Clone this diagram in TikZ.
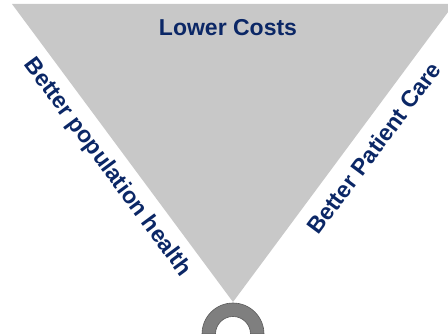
\documentclass[tikz,border=0pt]{standalone}
\usepackage{fontspec}
\setmainfont{Liberation Sans}
\usetikzlibrary{calc,positioning}

\definecolor{navy}{HTML}{0B2766}
\definecolor{conegray}{HTML}{C8C8C8}
\definecolor{archgray}{HTML}{7F7F7F}
\definecolor{archedge}{HTML}{5A5A5A}

\tikzset{
	aimlabel/.style={text=navy, font=\fontsize{23}{26}\selectfont\bfseries, inner sep=0pt},
	cone/.style={fill=conegray, draw=none},
	arch/.style={fill=archgray, draw=archedge, line width=0.6pt}
}

\begin{document}
\begin{tikzpicture}[x=1pt,y=1pt]
	\path[use as bounding box, clip] (0,0) rectangle (448,334);

	\coordinate (TL)	at (12,330);
	\coordinate (TR)	at (454,330);
	\coordinate (A)		at (233,32);
	\coordinate (O)		at (233,0);

	% the cone
	\path[cone] (TL) -- (TR) -- (A) -- cycle;

	% the arch under the tip
	\draw[arch] ($(O)+(31,0)$) arc[start angle=0, end angle=180, radius=31]
		-- ($(O)+(-17.5,0)$) arc[start angle=180, end angle=0, radius=17.5] -- cycle;

	\node[aimlabel]						(costs)		at (228,306)	{Lower Costs};
	\node[aimlabel, rotate=-53.4]		(health)	at ($(TL)!0.507!(A)!21pt!-90:(A)$)	{Better population health};
	\node[aimlabel, rotate=53.4]		(care)		at ($(TR)!0.44!(A)!21.5pt!90:(A)$)	{Better Patient Care};
\end{tikzpicture}
\end{document}
